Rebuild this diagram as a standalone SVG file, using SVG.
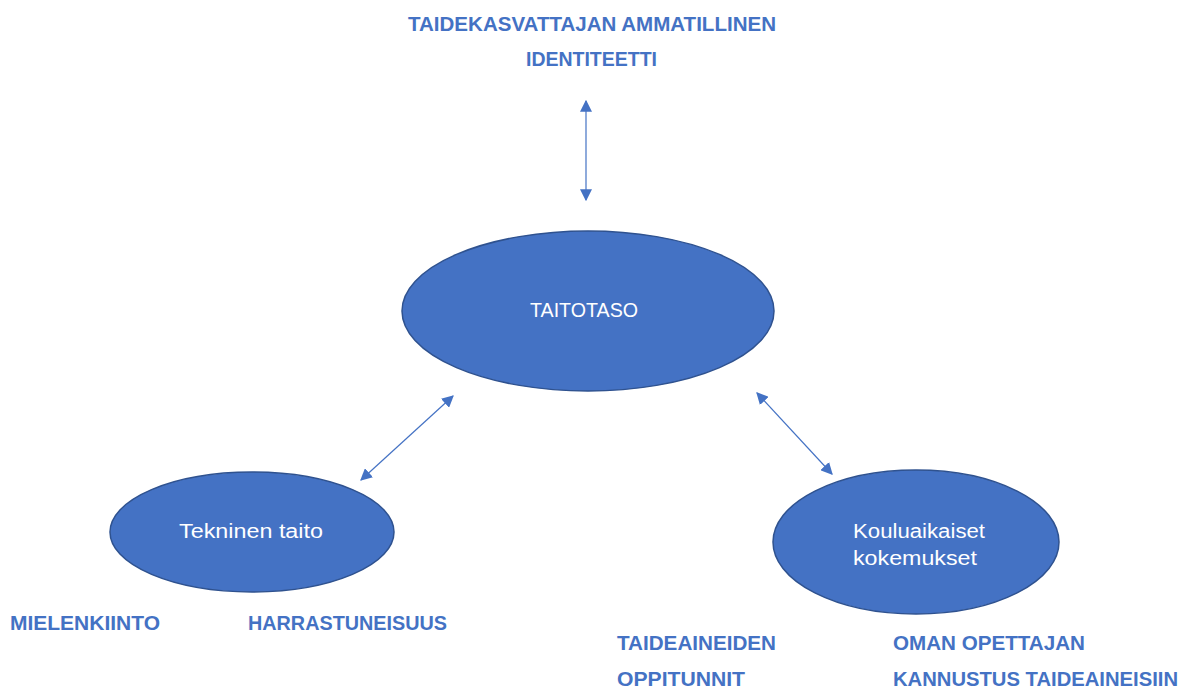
<svg xmlns="http://www.w3.org/2000/svg" width="1189" height="688" viewBox="0 0 1189 688">
<defs>
<style>
.lbl{font-family:"Liberation Sans",Arial,sans-serif;font-weight:bold;font-size:21px;fill:#4472C4;}
.in{font-family:"Liberation Sans",Arial,sans-serif;font-size:20px;fill:#ffffff;}
.node{fill:#4472C4;stroke:#2F528F;stroke-width:1.5;}
.con{stroke:#4472C4;stroke-width:1.2;fill:none;marker-start:url(#ah);marker-end:url(#ah);}
</style>
<marker id="ah" viewBox="0 0 10 10" refX="9" refY="5" markerWidth="12" markerHeight="12" markerUnits="userSpaceOnUse" orient="auto-start-reverse">
<path d="M0,0 L10,5 L0,10 z" fill="#4472C4"/>
</marker>
</defs>
<g id="connectors">
<line class="con" x1="586" y1="101" x2="586" y2="200"/>
<line class="con" x1="453" y1="396" x2="361" y2="480"/>
<line class="con" x1="757" y1="393" x2="832" y2="474"/>
</g>
<g id="title">
<text class="lbl" x="408" y="31" textLength="368" lengthAdjust="spacingAndGlyphs">TAIDEKASVATTAJAN AMMATILLINEN</text>
<text class="lbl" x="526" y="66" textLength="131" lengthAdjust="spacingAndGlyphs">IDENTITEETTI</text>
</g>
<g id="taitotaso">
<ellipse class="node" cx="588" cy="311" rx="186" ry="80"/>
<text class="in" x="530" y="317" textLength="108" lengthAdjust="spacingAndGlyphs">TAITOTASO</text>
</g>
<g id="tekninen">
<ellipse class="node" cx="252" cy="532" rx="142" ry="60"/>
<text class="in" x="179" y="538" textLength="144" lengthAdjust="spacingAndGlyphs">Tekninen taito</text>
</g>
<g id="kouluaikaiset">
<ellipse class="node" cx="916" cy="542" rx="143" ry="72"/>
<text class="in" x="853" y="538" textLength="132" lengthAdjust="spacingAndGlyphs">Kouluaikaiset</text>
<text class="in" x="853" y="565" textLength="124" lengthAdjust="spacingAndGlyphs">kokemukset</text>
</g>
<g id="labels">
<text class="lbl" x="10" y="630" textLength="150" lengthAdjust="spacingAndGlyphs">MIELENKIINTO</text>
<text class="lbl" x="248" y="630" textLength="199" lengthAdjust="spacingAndGlyphs">HARRASTUNEISUUS</text>
<text class="lbl" x="617" y="650" textLength="159" lengthAdjust="spacingAndGlyphs">TAIDEAINEIDEN</text>
<text class="lbl" x="617" y="686" textLength="128" lengthAdjust="spacingAndGlyphs">OPPITUNNIT</text>
<text class="lbl" x="893" y="650" textLength="192" lengthAdjust="spacingAndGlyphs">OMAN OPETTAJAN</text>
<text class="lbl" x="893" y="686" textLength="285" lengthAdjust="spacingAndGlyphs">KANNUSTUS TAIDEAINEISIIN</text>
</g>
</svg>
